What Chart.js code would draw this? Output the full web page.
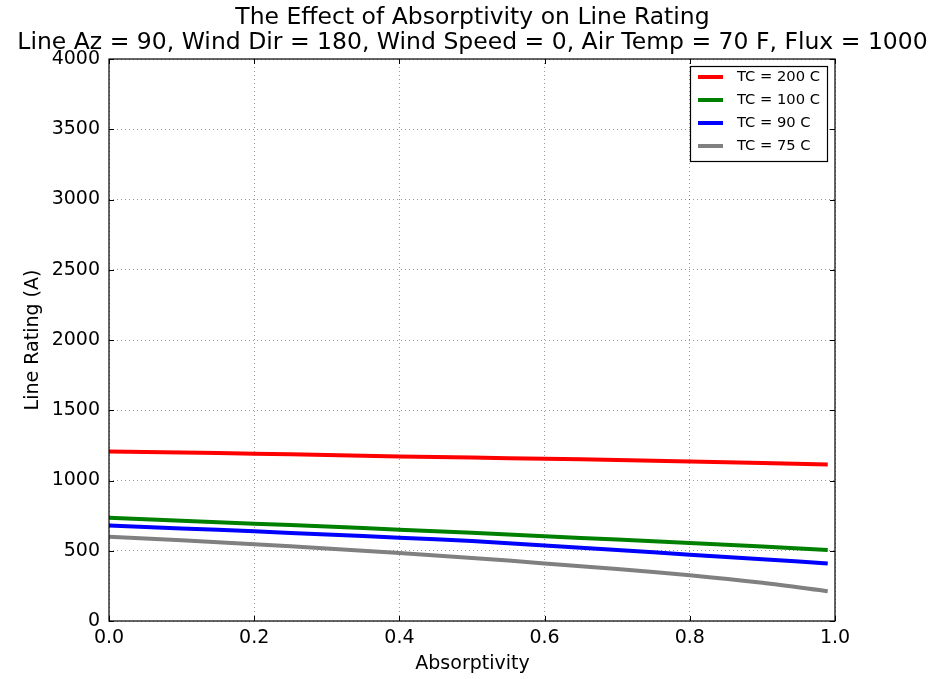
<!DOCTYPE html>
<html>
<head>
<meta charset="utf-8">
<script src="https://cdn.jsdelivr.net/npm/chart.js@4.4.1/dist/chart.umd.min.js"></script>
<style>
  html, body { margin: 0; padding: 0; background: #ffffff; }
  #wrap { width: 933px; height: 679px; position: relative; }
</style>
</head>
<body>
<div id="wrap"><canvas id="c" width="933" height="679"></canvas></div>
<script>
// ---- data ----
const titleLines = ["The Effect of Absorptivity on Line Rating",
                    "Line Az = 90, Wind Dir = 180, Wind Speed = 0, Air Temp = 70 F, Flux = 1000"];
const xAxisTitle = "Absorptivity";
const yAxisTitle = "Line Rating (A)";
const absorptivity = [0, 0.1, 0.2, 0.3, 0.4, 0.5, 0.6, 0.7, 0.8, 0.9, 0.99];
const tc200 = [1207, 1199, 1191, 1181, 1171, 1163, 1155, 1146, 1136, 1125, 1114];
const tc100 = [734, 714, 693, 672, 650, 628, 603, 580, 555, 530, 505];
const tc90  = [679, 659, 638, 616, 593, 569, 537, 505, 472, 440, 410];
const tc75  = [600, 574, 546, 516, 484, 449, 410, 370, 326, 272, 212];
const seriesLabels = ["TC = 200 C", "TC = 100 C", "TC = 90 C", "TC = 75 C"];
const seriesColors = ["#ff0000", "#008000", "#0000ff", "#808080"];
const xTicks = [0, 0.2, 0.4, 0.6, 0.8, 1.0];
const yTicks = [0, 500, 1000, 1500, 2000, 2500, 3000, 3500, 4000];

const FONT = "'DejaVu Sans', sans-serif";

function pts(ys) { return absorptivity.map((x, i) => ({ x: x, y: ys[i] })); }
const allSeries = [tc200, tc100, tc90, tc75];

const decor = {
  id: 'decor',
  afterDatasetsDraw(chart) {
    const ctx = chart.ctx, a = chart.chartArea;
    const xs = chart.scales.x, ys = chart.scales.y;
    ctx.save();
    // frame
    ctx.strokeStyle = '#000'; ctx.lineWidth = 1.2;
    ctx.strokeRect(a.left, a.top, a.right - a.left, a.bottom - a.top);
    // inward ticks
    ctx.lineWidth = 1;
    const L = 5;
    xTicks.forEach(v => {
      const p = Math.round(xs.getPixelForValue(v)) + 0.5;
      ctx.beginPath();
      ctx.moveTo(p, a.bottom); ctx.lineTo(p, a.bottom - L);
      ctx.moveTo(p, a.top); ctx.lineTo(p, a.top + L);
      ctx.stroke();
    });
    yTicks.forEach(v => {
      const p = Math.round(ys.getPixelForValue(v)) + 0.5;
      ctx.beginPath();
      ctx.moveTo(a.left, p); ctx.lineTo(a.left + L, p);
      ctx.moveTo(a.right, p); ctx.lineTo(a.right - L, p);
      ctx.stroke();
    });
    // title
    ctx.fillStyle = '#000';
    ctx.textAlign = 'center'; ctx.textBaseline = 'middle';
    ctx.font = "23.5px " + FONT;
    const cx = (a.left + a.right) / 2 + 0.5;
    ctx.fillText(titleLines[0], cx, 18);
    ctx.fillText(titleLines[1], cx, 43);
    // axis titles
    ctx.font = "19px " + FONT;
    ctx.fillText(xAxisTitle, cx, 664);
    ctx.save();
    ctx.translate(33, (a.top + a.bottom) / 2);
    ctx.rotate(-Math.PI / 2);
    ctx.fillText(yAxisTitle, 0, 0);
    ctx.restore();
    // legend box
    const bx = 690, by = 66, bw = 137, bh = 95;
    ctx.fillStyle = '#fff';
    ctx.fillRect(bx, by, bw, bh);
    ctx.strokeStyle = '#000'; ctx.lineWidth = 1.2;
    ctx.strokeRect(bx + 0.5, by + 0.5, bw, bh);
    ctx.font = "14.7px " + FONT;
    ctx.textAlign = 'left';
    chart.data.datasets.forEach((ds, i) => {
      const yy = 77 + i * 23;
      ctx.strokeStyle = ds.borderColor; ctx.lineWidth = 4;
      ctx.beginPath(); ctx.moveTo(698, yy); ctx.lineTo(723, yy); ctx.stroke();
      ctx.fillStyle = '#000';
      ctx.fillText(ds.label, 737, yy);
    });
    ctx.restore();
  }
};

new Chart(document.getElementById('c'), {
  type: 'line',
  data: {
    datasets: allSeries.map((s, i) => ({
      label: seriesLabels[i],
      data: pts(s),
      borderColor: seriesColors[i],
      backgroundColor: seriesColors[i],
      borderWidth: 4,
      pointRadius: 0,
      tension: 0.3,
      fill: false
    }))
  },
  options: {
    responsive: false,
    animation: false,
    layout: { padding: { top: 59, right: 98, left: 0, bottom: 0 } },
    plugins: { legend: { display: false }, title: { display: false }, tooltip: { enabled: false } },
    scales: {
      x: {
        type: 'linear', min: 0, max: 1,
        afterFit(s) { s.height = 58; },
        afterBuildTicks(s) { s.ticks = xTicks.map(v => ({ value: v })); },
        grid: { color: 'rgba(0,0,0,0.4)', lineWidth: 1, drawTicks: false },
        border: { display: false, dash: [1, 3] },
        ticks: { color: '#000', padding: 6, font: { family: FONT, size: 19 },
                 callback: v => Number(v).toFixed(1), maxRotation: 0 }
      },
      y: {
        type: 'linear', min: 0, max: 4000,
        afterFit(s) { s.width = 109; },
        afterBuildTicks(s) { s.ticks = yTicks.map(v => ({ value: v })); },
        grid: { color: 'rgba(0,0,0,0.4)', lineWidth: 1, drawTicks: false },
        border: { display: false, dash: [1, 3] },
        ticks: { color: '#000', padding: 9, font: { family: FONT, size: 19 },
                 callback: v => String(v) }
      }
    }
  },
  plugins: [decor]
});
</script>
</body>
</html>
